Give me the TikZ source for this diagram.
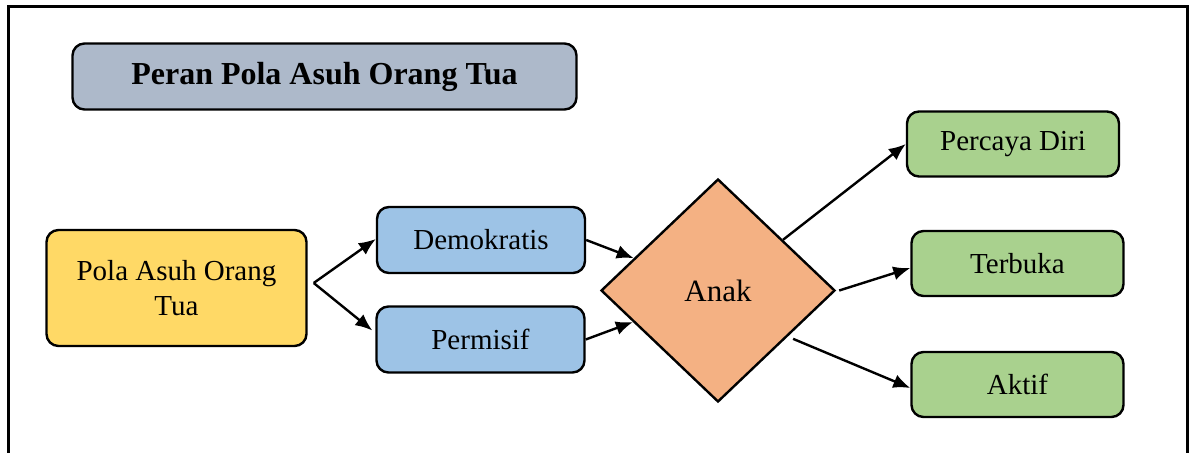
\documentclass[tikz,border=0pt]{standalone}
\usepackage{fontspec}
\setmainfont{Liberation Serif}
\usetikzlibrary{shapes.geometric, arrows.meta, positioning, calc}
\definecolor{judulgray}{HTML}{ADB9CA}
\definecolor{polayellow}{HTML}{FFD966}
\definecolor{tipeblue}{HTML}{9DC3E6}
\definecolor{anakorange}{HTML}{F4B183}
\definecolor{hasilgreen}{HTML}{A9D18E}

\begin{document}
\begin{tikzpicture}[
  x=0.5pt, y=-0.5pt,
  box/.style={draw, line width=1.2pt, rounded corners=6pt, align=center, inner sep=0pt, font=\fontsize{14.5}{17.5}\selectfont},
  judul/.style={box, fill=judulgray, minimum width=252pt, minimum height=33pt, font=\fontsize{16}{19}\selectfont\bfseries},
  pola/.style={box, fill=polayellow, minimum width=130pt, minimum height=58pt},
  tipe/.style={box, fill=tipeblue, minimum width=104pt, minimum height=33pt},
  hasil/.style={box, fill=hasilgreen, minimum width=106pt, minimum height=32.5pt},
  anak/.style={diamond, draw, line width=1.2pt, fill=anakorange, inner sep=0pt, minimum width=117pt, minimum height=111.5pt, font=\fontsize{15.5}{18}\selectfont},
  arr/.style={-{Latex[length=8.5pt, width=7pt]}, line width=1.2pt}
]
\useasboundingbox (0,0) rectangle (1192,453);
\draw[line width=1.5pt] (8,453) -- (8,7) -- (1187,7) -- (1187,453);

\node[judul] (judul) at (324.5,76.5) {Peran Pola Asuh Orang Tua};
\node[pola] (pola) at (176.5,288) {Pola Asuh Orang\\Tua};
\node[tipe] (demo) at (481,240) {Demokratis};
\node[tipe] (permisif) at (480.5,339.5) {Permisif};
\node[anak] (anak) at (718,290.5) {Anak};
\node[hasil] (percaya) at (1013,144) {Percaya Diri};
\node[hasil] (terbuka) at (1017.5,263.5) {Terbuka};
\node[hasil] (aktif) at (1017.5,384.5) {Aktif};

% cabang dari pola asuh
\coordinate (cabang) at ([xshift=3pt,yshift=2.5pt]pola.east);
\draw[arr] (cabang) -- ([yshift=0.5pt]demo.west);
\draw[arr] (cabang) -- ([xshift=-1.5pt,yshift=4.5pt]permisif.west);

% menuju anak
\draw[arr] (demo.east) -- (anak);
\draw[arr] (permisif.east) -- (anak);

% hasil pada anak
\draw[arr] (anak) -- (percaya.west);
\draw[arr] ([xshift=1.5pt]anak.east) -- ([yshift=-2.25pt]terbuka.west);
\draw[arr] ([xshift=8pt,yshift=4pt]anak.south east) -- ([yshift=-1.75pt]aktif.west);
\end{tikzpicture}
\end{document}
